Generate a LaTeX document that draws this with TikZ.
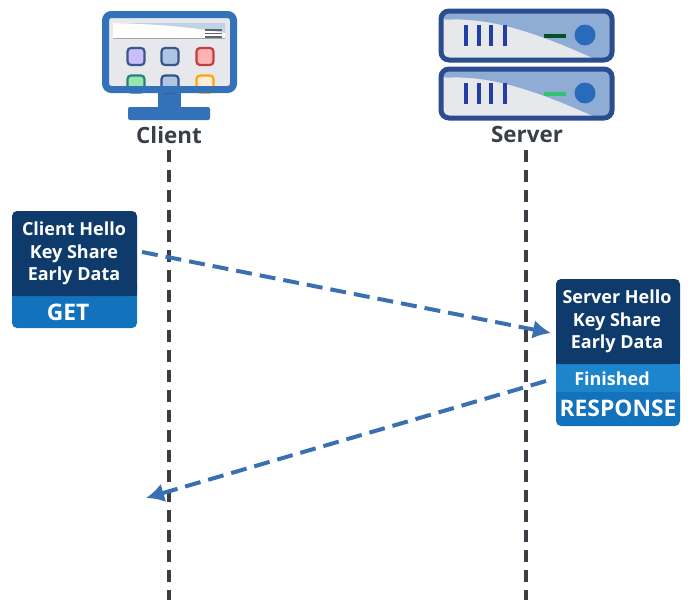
\documentclass[tikz,border=0pt]{standalone}
\usepackage{fontspec}
\setmainfont{Open Sans}
\usetikzlibrary{arrows.meta,positioning}
\definecolor{boxdark}{HTML}{0F3B6C}
\definecolor{boxblue}{HTML}{1272BC}
\definecolor{boxmid}{HTML}{1C85CB}
\definecolor{arrowblue}{HTML}{3A70B2}
\definecolor{monframe}{HTML}{3372B8}
\definecolor{srvframe}{HTML}{2B4C8F}
\definecolor{srvlight}{HTML}{8FADD4}
\definecolor{srvdot}{HTML}{2A6ABB}
\definecolor{panelgray}{HTML}{E6E8EC}
\definecolor{labelgray}{HTML}{3A3F45}

\begin{document}
\begin{tikzpicture}[
    x=1pt, y=-1pt,
    lifeline/.style={draw=labelgray, line width=3.2pt, dash pattern=on 12pt off 8pt},
    message/.style={draw=arrowblue, line width=4pt, dash pattern=on 16pt off 8pt, -{Latex[length=18pt,width=19pt]}},
    actor/.style={text=labelgray, font=\fontsize{22.4}{24}\selectfont\bfseries, inner sep=0},
    boxtext/.style={text=white, align=center, inner sep=0, font=\fontsize{18}{22.5}\selectfont\bfseries},
    verb/.style={text=white, inner sep=0, font=\fontsize{22.8}{24}\selectfont\bfseries},
    tile/.style={rounded corners=3.5pt, line width=2.2pt, minimum size=17pt, inner sep=0},
    srvcase/.style={draw=srvframe, line width=5pt, rounded corners=8pt}
]
\useasboundingbox (0,0) rectangle (693,613);

% client icon
\fill[monframe] (158,90) rectangle (181,108);
\fill[monframe, rounded corners=2pt] (128,107) rectangle (210,120);
\fill[panelgray] (108,18) rectangle (230,87);
\fill[white] (113,23) rectangle (225,38);
\fill[srvlight!55] (113,23) .. controls (150,24) and (185,26) .. (225,33) -- (225,23) -- cycle;
\draw[gray!70, line width=1pt] (113,38.5) -- (225,38.5);
\foreach \ypos in {30,33.5,37}
    \draw[labelgray!80, line width=1.2pt] (205,\ypos) -- (222,\ypos);
\node[tile, draw=srvframe!80!gray, fill=violet!25!blue!25!white] (tileA) at (136,56.5) {};
\node[tile, draw=srvframe!80!gray, fill=monframe!40!white] (tileB) at (170,56.5) {};
\node[tile, draw=red!50!gray, fill=red!30!white] (tileC) at (205,56.5) {};
\node[tile, draw=teal!70!gray, fill=green!50!teal!40!white] (tileD) at (136,84) {};
\node[tile, draw=srvframe!90!gray, fill=monframe!40!white] (tileE) at (170,84) {};
\node[tile, draw=orange!70!yellow, fill=orange!15!white] (tileF) at (205,84) {};
\draw[monframe, line width=7pt, rounded corners=6pt] (105.5,14.5) rectangle (233.5,89.5);
\node[actor] (client) at (169,135) {Client};

% server icon
\foreach \ytop/\barcol in {0/boxdark!60!green!60!black, 58/green!40!teal!80!white}{
    \fill[panelgray, rounded corners=8pt] (441,11+\ytop) rectangle (612,60+\ytop);
    \fill[srvlight, rounded corners=6pt] (441,20+\ytop) .. controls (480,18+\ytop) and (520,25+\ytop) .. (597,60+\ytop) -- (612,60+\ytop) -- (612,11+\ytop) -- (441,11+\ytop) -- cycle;
    \foreach \xbar in {466,479,491,505}
        \draw[srvframe!80!blue, line width=3.4pt] (\xbar,25+\ytop) -- (\xbar,46+\ytop);
    \draw[\barcol, line width=3.4pt] (544,36+\ytop) -- (566,36+\ytop);
    \fill[srvdot] (585,35+\ytop) circle (10.5);
    \draw[srvcase] (441,11+\ytop) rectangle (612,60+\ytop);
}
\node[actor] (server) at (527,134) {Server};

% lifelines
\coordinate (clientend) at (169,600);
\coordinate (serverend) at (526,600);
\path[lifeline] (169,150) -- (clientend);
\path[lifeline] (526,150) -- (serverend);

% client message
\fill[boxblue, rounded corners=5pt] (12,280) rectangle (137,328);
\fill[boxdark, rounded corners=5pt] (12,296) -- (12,211) -- (137,211) -- (137,296) [sharp corners] -- cycle;
\fill[boxdark] (12,285) rectangle (137,296);
\node[boxtext] (clienthello) at (74,253.5) {Client Hello\\Key Share\\Early Data};
\node[verb] (get) at (68,312) {GET};
\coordinate (clientout) at (142,252);

% server message
\fill[boxblue, rounded corners=5pt] (556,370) rectangle (680,426);
\fill[boxmid] (556,364) rectangle (680,392);
\fill[boxdark, rounded corners=5pt] (556,364) -- (556,279) -- (680,279) -- (680,364) [sharp corners] -- cycle;
\fill[boxdark] (556,352) rectangle (680,364);
\node[boxtext] (serverhello) at (617,321.5) {Server Hello\\Key Share\\Early Data};
\node[boxtext] (finished) at (612,379) {Finished};
\node[verb] (response) at (618,408) {RESPONSE};
\coordinate (serverin) at (551,333);
\coordinate (serverout) at (546,381);
\coordinate (clientin) at (146,498);

\draw[message] (clientout) -- (serverin);
\draw[message] (serverout) -- (clientin);
\end{tikzpicture}
\end{document}
